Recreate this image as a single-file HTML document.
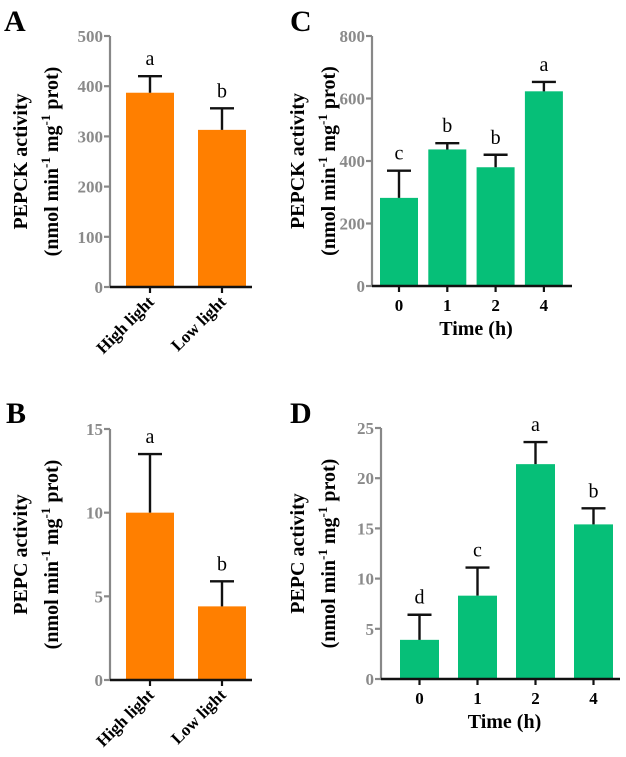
<!DOCTYPE html>
<html><head><meta charset="utf-8"><style>
html,body{margin:0;padding:0;background:#fff;}
svg{display:block;}
svg text{font-family:"Liberation Serif","Times New Roman",serif;}
</style></head><body>
<svg id="fig" width="626" height="757" viewBox="0 0 626 757" xmlns="http://www.w3.org/2000/svg" font-family="Liberation Serif, serif"></svg>
<script>
// Panel A data
const catsA = ["High light","Low light"];
const valsA = [387, 313];
const errsA = [33, 43];
const letA = ["a","b"];
const ticksA = [0,100,200,300,400,500];
// Panel B data
const catsB = ["High light","Low light"];
const valsB = [10.0, 4.4];
const errsB = [3.5, 1.5];
const letB = ["a","b"];
const ticksB = [0,5,10,15];
// Panel C data
const catsC = ["0","1","2","4"];
const valsC = [282, 437, 380, 623];
const errsC = [87, 20, 40, 30];
const letC = ["c","b","b","a"];
const ticksC = [0,200,400,600,800];
// Panel D data
const catsD = ["0","1","2","4"];
const valsD = [3.9, 8.3, 21.4, 15.4];
const errsD = [2.5, 2.8, 2.2, 1.6];
const letD = ["d","c","a","b"];
const ticksD = [0,5,10,15,20,25];

const NS="http://www.w3.org/2000/svg";
const svg=document.getElementById('fig');
const FF='Liberation Serif, Times New Roman, serif';
function mk(tag,attrs,parent,text){
  const e=document.createElementNS(NS,tag);
  for(const k in attrs)e.setAttribute(k,attrs[k]);
  if(tag==='text')e.setAttribute('font-family',FF);
  if(text!==undefined)e.textContent=text;
  (parent||svg).appendChild(e);return e;
}
function panel(cfg){
  const g=mk('g',{});
  
  
  const max=cfg.ticks[cfg.ticks.length-1];
  const y=v=>cfg.y0-(v/max)*(cfg.y0-cfg.yTop);
  const n=cfg.cats.length;
  const step=cfg.step;
  const xc=i=>cfg.c0+step*i;
  const pl=mk('text',{x:cfg.lx,y:cfg.ly,'font-size':30,'font-weight':'bold'},g,cfg.id);
  
  
  cfg.vals.forEach((v,i)=>{
    const b=mk('rect',{x:xc(i)-cfg.bw/2,y:y(v),width:cfg.bw,height:cfg.y0-y(v),fill:cfg.color},g);
    
    
    const top=y(v+cfg.errs[i]);
    const eb=mk('path',{d:`M${xc(i)} ${y(v)}V${top}M${xc(i)-12} ${top}H${xc(i)+12}`,stroke:'#111','stroke-width':2.4,fill:'none'},g);
    
    
    const lt=mk('text',{x:xc(i),y:top-11,'font-size':20,'text-anchor':'middle'},g,cfg.lets[i]);
    
    
  });
  const ya=mk('line',{x1:cfg.ax,y1:cfg.yTop,x2:cfg.ax,y2:cfg.y0,stroke:'#888','stroke-width':2.2},g);
  
  
  cfg.ticks.forEach(t=>{
    mk('line',{x1:cfg.ax-6,y1:y(t),x2:cfg.ax,y2:y(t),stroke:'#888','stroke-width':2.2},g);
    const tl=mk('text',{x:cfg.ax-7,y:y(t)+6,'font-size':17,'font-weight':'bold',fill:'#8a8a8a','text-anchor':'end'},g,String(t));
    
    
  });
  const xa=mk('line',{x1:cfg.ax,y1:cfg.y0,x2:cfg.xEnd,y2:cfg.y0,stroke:'#111','stroke-width':2.4},g);
  
  
  cfg.cats.forEach((c,i)=>{
    mk('line',{x1:xc(i),y1:cfg.y0,x2:xc(i),y2:cfg.y0+6,stroke:'#111','stroke-width':2.2},g);
    let tl;
    if(cfg.rot){
      tl=mk('text',{x:xc(i)+5,y:cfg.y0+16,'font-size':17,'font-weight':'bold','text-anchor':'end',transform:`rotate(-45 ${xc(i)+5} ${cfg.y0+16})`},g,c);
    } else {
      tl=mk('text',{x:xc(i),y:cfg.y0+25,'font-size':17,'font-weight':'bold','text-anchor':'middle'},g,c);
    }
    
    
  });
  if(!cfg.rot){
    const xt=mk('text',{x:(cfg.ax+cfg.xEnd)/2+4,y:cfg.y0+49,'font-size':20,'font-weight':'bold','text-anchor':'middle'},g,'Time (h)');
    
    
  }
  const mid=(cfg.yTop+cfg.y0)/2;
  const t1=mk('text',{x:0,y:0,'font-size':20,'font-weight':'bold','text-anchor':'middle',transform:`translate(${cfg.tx} ${mid}) rotate(-90)`},g,cfg.title);
  
  
  const t2=mk('text',{x:0,y:0,'font-size':20,'font-weight':'bold','text-anchor':'middle',transform:`translate(${cfg.tx+31} ${mid}) rotate(-90)`},g);
  
  
  const parts=[["(nmol min",0],["-1",1],[" mg",0],["-1",1],[" prot)",0]];
  parts.forEach((p,k)=>{
    const a=p[1]?{'font-size':13,dy:-8}:{dy:k===0?0:8};
    mk('tspan',a,t2,p[0]);
  });
}
panel({id:'A',cats:catsA,vals:valsA,errs:errsA,lets:letA,ticks:ticksA,ax:110,xEnd:252,yTop:36,y0:287,bw:48,c0:150,step:72,color:'#ff7f00',rot:true,lx:4,ly:31,tx:27,title:'PEPCK activity'});
panel({id:'B',cats:catsB,vals:valsB,errs:errsB,lets:letB,ticks:ticksB,ax:110,xEnd:252,yTop:429,y0:680,bw:48,c0:150,step:72,color:'#ff7f00',rot:true,lx:6,ly:423,tx:27,title:'PEPC activity'});
panel({id:'C',cats:catsC,vals:valsC,errs:errsC,lets:letC,ticks:ticksC,ax:372,xEnd:572,yTop:36,y0:286,bw:38,c0:399,step:48.3,color:'#06bf78',rot:false,lx:290,ly:31,tx:304,title:'PEPCK  activity'});
panel({id:'D',cats:catsD,vals:valsD,errs:errsD,lets:letD,ticks:ticksD,ax:381,xEnd:620,yTop:428,y0:679,bw:39,c0:419.5,step:58,color:'#06bf78',rot:false,lx:290,ly:423,tx:304,title:'PEPC  activity'});
</script>
</body></html>
